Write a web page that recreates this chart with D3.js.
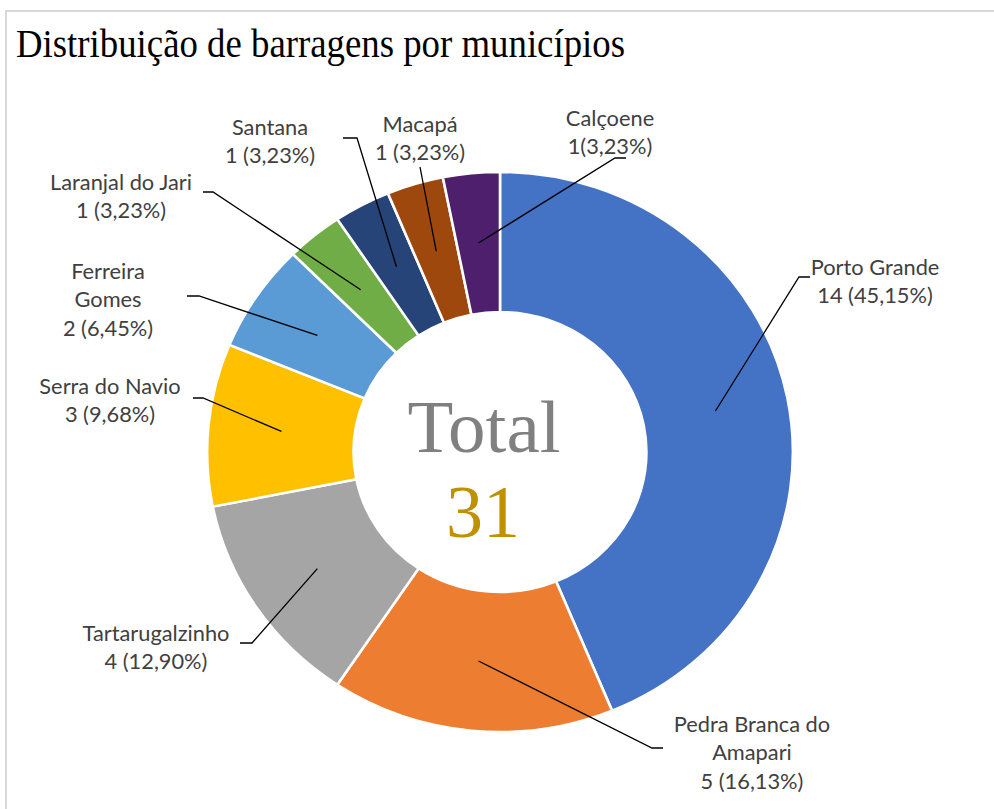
<!DOCTYPE html>
<html>
<head>
<meta charset="utf-8">
<script src="https://cdn.jsdelivr.net/npm/d3@7"></script>
<style>
  html, body { margin: 0; padding: 0; background: #fff; }
  svg { display: block; }
</style>
</head>
<body>
<svg id="chart" width="994" height="809"></svg>
<script>
// ---- data ----
const categories = ["Porto Grande", "Pedra Branca do Amapari", "Tartarugalzinho", "Serra do Navio",
  "Ferreira Gomes", "Laranjal do Jari", "Santana", "Macapá", "Calçoene"];
const values = [14, 5, 4, 3, 2, 1, 1, 1, 1];
const nameLines = [["Porto Grande"], ["Pedra Branca do", "Amapari"], ["Tartarugalzinho"], ["Serra do Navio"],
  ["Ferreira", "Gomes"], ["Laranjal do Jari"], ["Santana"], ["Macapá"], ["Calçoene"]];
const valueLabels = ["14 (45,15%)", "5 (16,13%)", "4 (12,90%)", "3 (9,68%)", "2 (6,45%)",
  "1 (3,23%)", "1 (3,23%)", "1 (3,23%)", "1(3,23%)"];
const totalLabel = "Total";
const totalValue = "31";
const titleText = "Distribuição de barragens por municípios";

// ---- styles / layout ----
const colors = ["#4472C4", "#ED7D31", "#A5A5A5", "#FFC000", "#5B9BD5", "#70AD47", "#264478", "#9E480E", "#4E1F6C"];
const cx = 500, cy = 452, outerR = 280, innerR = 140, sx = 1.046;
// label layout: elbow point, end x of horizontal tick, text center x, first baseline y
const labelLayout = [
  { ex: 799, ey: 277, hx: 810, tx: 875, ty: 275 },
  { ex: 652, ey: 748, hx: 663, tx: 752, ty: 732 },
  { ex: 252, ey: 643, hx: 240, tx: 156, ty: 641 },
  { ex: 203, ey: 398, hx: 193, tx: 110, ty: 394 },
  { ex: 199, ey: 296, hx: 187, tx: 108, ty: 279 },
  { ex: 213, ey: 192, hx: 203, tx: 121, ty: 190 },
  { ex: 357, ey: 138, hx: 343, tx: 270, ty: 135 },
  { ex: 420, ey: 167, hx: 420, tx: 420, ty: 132 },
  { ex: 615, ey: 158, hx: 626, tx: 610, ty: 126 }
];
const lineH = 28.3;

const svg = d3.select("#chart");

// border
svg.append("rect").attr("x", 6).attr("y", 11).attr("width", 1000).attr("height", 820)
  .attr("fill", "none").attr("stroke", "#d9d9d9").attr("stroke-width", 2);

// title
svg.append("text").attr("x", 16).attr("y", 57)
  .attr("font-family", "'Liberation Serif', 'Times New Roman', serif")
  .attr("font-size", 39).attr("fill", "#000")
  .attr("textLength", 609).attr("lengthAdjust", "spacingAndGlyphs")
  .text(titleText);

const pie = d3.pie().sort(null).value(d => d).startAngle(0).endAngle(2 * Math.PI);
const arcs = pie(values);
const arc = d3.arc().innerRadius(innerR).outerRadius(outerR);

const g = svg.append("g").attr("transform", `translate(${cx},${cy}) scale(${sx},1)`);
g.selectAll("path").data(arcs).enter().append("path")
  .attr("d", arc)
  .attr("fill", (d, i) => colors[i])
  .attr("stroke", "#fff").attr("stroke-width", 2.5).attr("stroke-linejoin", "miter");

// leader lines
const mid = d3.arc().innerRadius((innerR + outerR) / 2).outerRadius((innerR + outerR) / 2);
arcs.forEach((d, i) => {
  const c = mid.centroid(d);
  const px = cx + c[0] * sx, py = cy + c[1];
  const L = labelLayout[i];
  svg.append("polyline")
    .attr("points", `${px},${py} ${L.ex},${L.ey} ${L.hx},${L.ey}`)
    .attr("fill", "none").attr("stroke", "#000").attr("stroke-width", 1.3);
});

// labels
arcs.forEach((d, i) => {
  const L = labelLayout[i];
  const lines = nameLines[i].concat([valueLabels[i]]);
  const t = svg.append("text")
    .attr("font-family", "Lato, 'Open Sans', sans-serif")
    .attr("font-size", 21.8).attr("fill", "#404040").attr("text-anchor", "middle");
  lines.forEach((s, k) => {
    t.append("tspan").attr("x", L.tx).attr("y", L.ty + k * lineH).text(s);
  });
});

// center text
svg.append("text").attr("x", 484).attr("y", 452)
  .attr("font-family", "'Liberation Serif', 'Times New Roman', serif")
  .attr("font-size", 75).attr("fill", "#808080").attr("text-anchor", "middle")
  .attr("textLength", 153).attr("lengthAdjust", "spacingAndGlyphs")
  .text(totalLabel);
svg.append("text").attr("x", 483).attr("y", 537)
  .attr("font-family", "'Liberation Serif', 'Times New Roman', serif")
  .attr("font-size", 74).attr("fill", "#BF9000").attr("text-anchor", "middle")
  .text(totalValue);
</script>
</body>
</html>
